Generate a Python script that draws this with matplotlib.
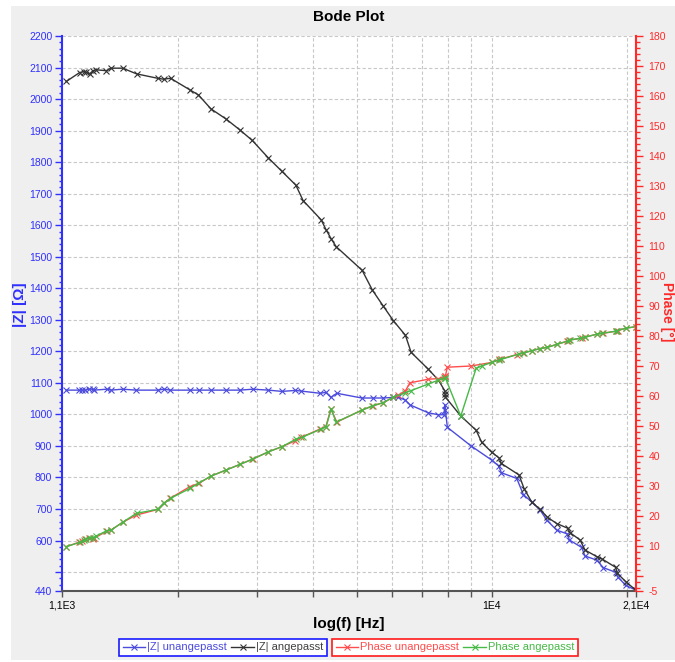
import matplotlib
matplotlib.use('Agg')
import matplotlib.pyplot as plt
from matplotlib.ticker import FixedLocator, NullLocator, MultipleLocator, FixedFormatter
from matplotlib.patches import Rectangle

plt.rcParams['font.family'] = ['Liberation Sans', 'DejaVu Sans']

# ---------------- data ----------------
f_unangepasst = [1125, 1198, 1219, 1240, 1261, 1287, 1298, 1386, 1415, 1502,
                 1611, 1801, 1854, 1918, 2123, 2223, 2364, 2554, 2744, 2933,
                 3177, 3404, 3651, 3759, 4144, 4268, 4378, 4515, 5133, 5433,
                 5736, 6038, 6195, 6411, 6579, 7227, 7608, 7834, 7861, 7887,
                 7967, 8999, 10009, 10375, 10515, 11379, 11770, 12291, 12826, 13274,
                 13972, 14757, 14907, 15888, 16158, 17163, 17754, 18946, 19116, 19916,
                 20967]
z_unangepasst = [1077, 1077, 1077, 1077, 1080, 1080, 1077, 1080, 1077, 1080,
                 1077, 1077, 1080, 1077, 1077, 1077, 1077, 1077, 1077, 1080,
                 1077, 1073, 1076, 1074, 1067, 1070, 1054, 1067, 1052, 1052,
                 1052, 1054, 1054, 1046, 1030, 1005, 999, 999, 1031, 1014,
                 959, 900, 855, 836, 815, 797, 746, 722, 697, 665,
                 633, 621, 602, 578, 551, 538, 514, 499, 485, 458,
                 443]
phase_unangepasst = [9.8, 11.2, 11.8, 12.3, 12.6, 12.3, 12.6, 15.0, 15.3, 17.9,
                     20.3, 22.2, 24.2, 25.9, 29.8, 30.9, 33.3, 35.3, 37.2, 39.0,
                     41.4, 43.1, 45.1, 46.2, 49.0, 49.8, 55.7, 51.3, 55.3, 56.7,
                     57.8, 59.6, 60.3, 61.6, 64.4, 65.6, 65.8, 66.2, 66.7, 66.7,
                     69.6, 70.0, 71.2, 72.2, 72.4, 73.8, 74.3, 75.1, 75.8, 76.2,
                     77.2, 78.3, 78.6, 79.3, 79.6, 80.6, 80.9, 81.6, 81.8, 82.6,
                     83.1]

f_angepasst = [1125, 1204, 1229, 1244, 1268, 1290, 1307, 1381, 1415, 1502,
               1613, 1797, 1854, 1921, 2123, 2218, 2364, 2554, 2744, 2923,
               3177, 3404, 3658, 3797, 4166, 4274, 4385, 4499, 5142, 5421,
               5728, 6038, 6422, 6612, 7227, 7608, 7861, 7874, 7887, 8535,
               9234, 9508, 10009, 10406, 10498, 11513, 11814, 12291, 12826, 13317,
               13972, 14787, 14961, 15750, 16158, 17163, 17664, 18919, 19074, 19948,
               20967]
z_angepasst = [2056, 2084, 2087, 2085, 2080, 2090, 2093, 2090, 2098, 2098,
               2080, 2066, 2063, 2066, 2029, 2013, 1969, 1937, 1902, 1869,
               1813, 1771, 1727, 1678, 1617, 1585, 1557, 1532, 1457, 1394,
               1344, 1297, 1251, 1197, 1143, 1109, 1075, 1065, 1055, 995,
               950, 911, 880, 861, 845, 808, 765, 722, 699, 674,
               654, 639, 625, 602, 570, 549, 541, 515, 496, 469,
               443]
phase_angepasst = [9.8, 11.2, 12.0, 12.3, 12.8, 12.8, 13.2, 15.0, 15.3, 17.9,
                   20.9, 22.2, 24.2, 25.9, 29.2, 30.9, 33.3, 35.3, 37.2, 38.9,
                   41.4, 43.1, 45.6, 46.4, 49.0, 49.8, 55.7, 51.3, 55.3, 56.7,
                   57.8, 59.6, 61.1, 61.8, 64.0, 65.3, 65.9, 66.0, 66.0, 53.3,
                   69.2, 70.0, 71.2, 72.0, 72.2, 74.0, 74.4, 75.1, 75.8, 76.2,
                   77.2, 78.3, 78.7, 79.2, 79.6, 80.6, 80.9, 81.6, 81.8, 82.6,
                   83.1]

x_ticks = [1100, 2000, 3000, 4000, 5000, 6000, 7000, 8000, 9000, 10000, 20000, 21000]
x_tick_labels = ['1,1E3', '', '', '', '', '', '', '', '', '1E4', '', '2,1E4']
z_ticks = [440] + list(range(500, 2201, 100))
z_tick_labels = ['440', ''] + [str(v) for v in range(600, 2201, 100)]
phase_ticks = [-5] + list(range(0, 181, 10))
phase_tick_labels = ['-5', ''] + [str(v) for v in range(10, 181, 10)]

series_labels = ['|Z| unangepasst', '|Z| angepasst', 'Phase unangepasst', 'Phase angepasst']

# ---------------- style ----------------
C_BLUE = '#4b4bdc'
C_BLACK = '#333333'
C_RED = '#ff4d4d'
C_GREEN = '#46b946'
AX_BLUE = '#3030ff'
AX_RED = '#ff2a2a'

W, H = 675, 662
fig = plt.figure(figsize=(W / 100, H / 100), dpi=100)
fig.patch.set_facecolor('white')
fig.add_artist(Rectangle((11 / W, 2 / H), 664 / W, 654 / H, transform=fig.transFigure,
                         facecolor='#efefef', edgecolor='none', zorder=-10))

L, R, T, B = 62, 636, 36, 591
ax = fig.add_axes([L / W, 1 - B / H, (R - L) / W, (B - T) / H])
ax.set_facecolor('white')
ax2 = ax.twinx()

mk = dict(marker='x', markersize=4, markeredgewidth=0.8, linewidth=1.0)
l1, = ax.plot(f_unangepasst, z_unangepasst, color=C_BLUE, **mk)
l2, = ax.plot(f_angepasst, z_angepasst, color=C_BLACK, **mk)
l3, = ax2.plot(f_unangepasst, phase_unangepasst, color=C_RED, **mk)
l4, = ax2.plot(f_angepasst, phase_angepasst, color=C_GREEN, **mk)

ax.set_xscale('log')
ax.set_xlim(1100, 21000)
ax.xaxis.set_major_locator(FixedLocator(x_ticks))
ax.xaxis.set_major_formatter(FixedFormatter(x_tick_labels))
ax.xaxis.set_minor_locator(NullLocator())

ax.set_ylim(440, 2200)
ax.yaxis.set_major_locator(FixedLocator(z_ticks))
ax.yaxis.set_major_formatter(FixedFormatter(z_tick_labels))
ax.yaxis.set_minor_locator(MultipleLocator(20))

ax2.set_ylim(-5, 180)
ax2.yaxis.set_major_locator(FixedLocator(phase_ticks))
ax2.yaxis.set_major_formatter(FixedFormatter(phase_tick_labels))
ax2.yaxis.set_minor_locator(MultipleLocator(2))

grid_kw = dict(color='#c8c8c8', linestyle=(0, (3, 2)), linewidth=0.8)
ax.grid(True, which='major', axis='both', **grid_kw)
ax.set_axisbelow(True)

ax.tick_params(axis='y', which='major', colors=AX_BLUE, direction='out', length=5, width=1,
               labelsize=7.5, pad=2)
ax.tick_params(axis='y', which='minor', colors=AX_BLUE, direction='out', length=2.5, width=1)
ax.tick_params(axis='x', which='major', colors='#555555', labelcolor='black', direction='out',
               length=4, width=1, labelsize=7.5, pad=3)
ax2.tick_params(axis='y', which='major', colors=AX_RED, direction='out', length=5, width=1,
                labelsize=7.5, pad=4)
ax2.tick_params(axis='y', which='minor', colors=AX_RED, direction='out', length=3, width=1)

for s in ['top', 'right']:
    ax.spines[s].set_visible(False)
for s in ['top', 'left', 'bottom']:
    ax2.spines[s].set_visible(False)
ax.spines['left'].set_color(AX_BLUE)
ax.spines['left'].set_linewidth(1.5)
ax.spines['bottom'].set_color('#555555')
ax.spines['bottom'].set_linewidth(1.5)
ax2.spines['right'].set_color(AX_RED)
ax2.spines['right'].set_linewidth(1.5)

# texts
fig.text(349 / W, 1 - 17 / H, 'Bode Plot', ha='center', va='center', fontsize=11, fontweight='bold')
fig.text(349 / W, 1 - 624 / H, 'log(f) [Hz]', ha='center', va='center', fontsize=11, fontweight='bold')
fig.text(20 / W, 1 - 305 / H, '|Z| [Ω]', ha='center', va='center', rotation=90,
         fontsize=11, fontweight='bold', color=AX_BLUE)
fig.text(667 / W, 1 - 312 / H, 'Phase [°]', ha='center', va='center', rotation=270,
         fontsize=10, fontweight='bold', color=AX_RED)

# legends
leg_kw = dict(loc='center', ncol=2, frameon=True, fancybox=False, framealpha=1, fontsize=8,
              handlelength=2.0, handletextpad=0.2, columnspacing=0.4, borderpad=0.35,
              borderaxespad=0)
leg1 = fig.legend([l1, l2], series_labels[:2], bbox_to_anchor=(223 / W, 1 - 647.5 / H),
                  labelcolor=[C_BLUE, '#404040'], edgecolor='#1a1aff', **leg_kw)
leg2 = fig.legend([l3, l4], series_labels[2:], bbox_to_anchor=(455 / W, 1 - 647.5 / H),
                  labelcolor=[C_RED, C_GREEN], edgecolor='#ff1a1a', **leg_kw)
for lg in (leg1, leg2):
    lg.get_frame().set_linewidth(1.2)

fig.savefig('out.png', dpi=100, facecolor=fig.get_facecolor())
